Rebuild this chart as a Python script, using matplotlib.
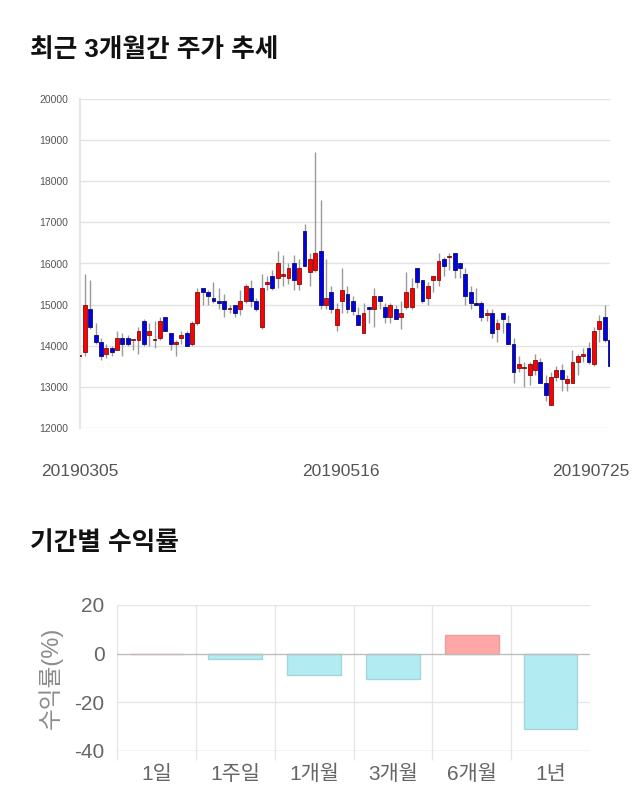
import numpy as np
import matplotlib
matplotlib.use("Agg")
import matplotlib.pyplot as plt
from matplotlib.transforms import ScaledTranslation

plt.rcParams['font.family'] = ['Liberation Sans', 'Noto Sans CJK KR', 'DejaVu Sans']

## daily candles, 2019-03-05 .. 2019-07-25
opens = [13750, 13850, 14900, 14250, 14100, 13800, 13950, 13900, 14200, 14200,
         14150, 14150, 14600, 14250, 14150, 14200, 14700, 14300, 14050, 14200,
         14300, 14050, 14550, 15400, 15300, 15150, 15100, 15100, 14900, 15000,
         14900, 15100, 15400, 15100, 14450, 15500, 15700, 15650, 15700, 15650,
         16000, 15500, 16800, 15800, 15850, 16300, 15000, 15300, 14500, 15100,
         15250, 15100, 14750, 14300, 14950, 14900, 15200, 14950, 14700, 14900,
         14700, 14950, 14950, 15900, 15600, 15150, 15600, 15600, 16100, 16150,
         16250, 16000, 15750, 15300, 15050, 15050, 14750, 14800, 14400, 14800,
         14550, 14050, 13450, 13450, 13300, 13400, 13600, 13100, 12550, 13250,
         13400, 13100, 13100, 13600, 13750, 13950, 13550, 14400, 14700, 14150]
highs = [13850, 15750, 15600, 14550, 14200, 14050, 14000, 14350, 14300, 14250,
         14150, 14450, 14650, 14550, 14600, 14700, 14700, 14300, 14150, 14350,
         14350, 14600, 15400, 15400, 15350, 15550, 15400, 15250, 15000, 15000,
         15350, 15500, 15600, 15150, 15750, 15700, 15850, 16300, 16200, 16000,
         16200, 16100, 16950, 16250, 18700, 17550, 16100, 15450, 15050, 15900,
         15450, 15200, 14950, 15050, 14950, 15400, 15200, 15050, 15050, 15000,
         15100, 15800, 15650, 15900, 15600, 15550, 15700, 16250, 16150, 16250,
         16250, 16000, 15900, 15450, 15400, 15100, 14900, 14900, 14650, 14800,
         14750, 14200, 13750, 13600, 13600, 13800, 13700, 13300, 13350, 13500,
         13550, 13300, 13900, 13800, 13950, 14100, 14450, 14750, 15000, 14450]
lows = [13650, 13750, 14400, 14050, 13650, 13700, 13750, 13900, 13750, 14000,
        13900, 13800, 14000, 14000, 13950, 14150, 14350, 13900, 13750, 14050,
        14000, 14000, 14500, 15000, 15000, 15050, 14900, 14700, 14800, 14700,
        14750, 15050, 14950, 14850, 14400, 15350, 15350, 15400, 15450, 15500,
        15350, 15350, 15950, 15450, 15800, 14900, 14900, 14800, 14350, 14800,
        14800, 14750, 14500, 14300, 14550, 14450, 14900, 14550, 14550, 14650,
        14400, 14900, 14900, 15400, 15050, 15000, 15300, 15450, 15700, 15850,
        15650, 15650, 15000, 14900, 15000, 14600, 14600, 14200, 14100, 14300,
        14050, 13100, 13350, 13000, 13050, 13300, 13100, 12650, 12550, 13150,
        12900, 12900, 13100, 13300, 13600, 13550, 13500, 14100, 14100, 13500]
closes = [13750, 15000, 14450, 14100, 13750, 13950, 13850, 14200, 14050, 14050,
          14150, 14350, 14050, 14350, 14150, 14600, 14350, 14050, 14100, 14250,
          14000, 14550, 15300, 15300, 15200, 15100, 15050, 14900, 14900, 14800,
          15100, 15450, 15100, 14900, 15400, 15550, 15400, 16000, 15750, 15900,
          15600, 15900, 15950, 16100, 16250, 15000, 15150, 14900, 14900, 15350,
          14900, 14850, 14500, 14800, 14900, 15200, 15100, 14700, 15000, 14650,
          14800, 15300, 15400, 15550, 15100, 15450, 15700, 16050, 15950, 16150,
          15850, 15900, 15200, 15050, 15000, 14700, 14800, 14300, 14550, 14650,
          14050, 13350, 13550, 13450, 13550, 13650, 13100, 12800, 13250, 13400,
          13200, 13200, 13600, 13750, 13800, 13600, 14350, 14600, 14150, 13500]
date_ticks = [0, 50, 99]
date_labels = ["20190305", "20190516", "20190725"]
price_ticks = [12000, 13000, 14000, 15000, 16000, 17000, 18000, 19000, 20000]

## period returns
periods = ["1일", "1주일", "1개월", "3개월", "6개월", "1년"]
returns = [0.0, -2.2, -8.9, -10.3, 7.7, -31.0]


def draw_candles(ax):
    o = np.array(opens, float)
    h = np.array(highs, float)
    l = np.array(lows, float)
    c = np.array(closes, float)
    x = np.arange(len(o))
    up = c >= o
    ax.vlines(x, l, h, color="#9a9a9a", linewidth=1, zorder=2)
    bottom = np.minimum(o, c)
    height = np.maximum(np.abs(c - o), 25)
    face = np.where(up, "#ff0000", "#0000ee")
    edge = np.where(up, "#7a1010", "#10105a")
    ax.bar(x, height, bottom=bottom, width=0.72, color=face,
           edgecolor=edge, linewidth=0.6, zorder=3)
    ax.set_xlim(0, len(o) - 1)
    ax.set_ylim(12000, 20000)
    ax.set_yticks(price_ticks)
    ax.set_yticklabels([str(t) for t in price_ticks], fontsize=7.5, color="#555555")
    ax.grid(axis="y", color="#e3e3e3", linewidth=1)
    ax.set_axisbelow(True)
    for s in ["top", "right", "bottom"]:
        ax.spines[s].set_visible(False)
    ax.spines["left"].set_color("#e6e6e6")
    ax.spines["left"].set_linewidth(1.5)
    ax.tick_params(axis="y", length=0, pad=8)
    ax.tick_params(axis="x", length=0, pad=26)
    ax.set_xticks(date_ticks)
    ax.set_xticklabels(date_labels, fontsize=12.5, color="#555555")
    # nudge the middle and last date the way the original sits
    dpi_tr = ax.figure.dpi_scale_trans
    labs = ax.get_xticklabels()
    labs[1].set_transform(labs[1].get_transform() + ScaledTranslation(-0.07, 0, dpi_tr))
    labs[2].set_transform(labs[2].get_transform() + ScaledTranslation(-0.19, 0, dpi_tr))


def draw_returns(ax):
    x = np.arange(len(periods))
    vals = np.array(returns)
    face = np.where(vals >= 0, "#ffa6a6", "#b2ebf2")
    edge = np.where(vals >= 0, "#e8a0a0", "#a5d5dc")
    ax.bar(x, vals, width=0.68, color=face, edgecolor=edge, linewidth=1, zorder=3)
    ax.set_xlim(-0.5, len(periods) - 0.5)
    ax.set_ylim(-40, 20)
    ax.set_yticks([20, 0, -20, -40])
    ax.set_yticklabels(["20", "0", "-20", "-40"], fontsize=15, color="#666666")
    for v in [20, -20]:
        ax.axhline(v, color="#e6e6e6", linewidth=1, zorder=1)
    ax.axhline(0, color="#bdbdbd", linewidth=1, zorder=4)
    ax.axhline(-40, color="#c8c8c8", linewidth=1, zorder=4)
    # category boundaries, running a bit past the bottom
    bounds = np.arange(len(periods)) - 0.5
    ax.vlines(bounds, -43.5, 20, color="#e6e6e6", linewidth=1, zorder=1, clip_on=False)
    for s in ax.spines.values():
        s.set_visible(False)
    ax.set_xticks(x)
    ax.set_xticklabels(periods, fontsize=15, color="#666666")
    ax.tick_params(axis="x", length=0, pad=10)
    ax.tick_params(axis="y", length=0, pad=9)
    ax.set_ylabel("수익률(%)", fontsize=17, color="#8c8c8c", labelpad=8)


fig = plt.figure(figsize=(6.4, 8.1), dpi=100)
fig.text(30 / 640, 1 - 50 / 810, "최근 3개월간 주가 추세", fontsize=18.5,
         fontweight="bold", va="center", ha="left", color="#111111")
fig.text(30 / 640, 1 - 543 / 810, "기간별 수익률", fontsize=18.5,
         fontweight="bold", va="center", ha="left", color="#111111")

ax1 = fig.add_axes([79.5 / 640, 1 - 428 / 810, 530.5 / 640, 329 / 810])
draw_candles(ax1)

ax2 = fig.add_axes([117 / 640, 1 - 751 / 810, 473 / 640, 146 / 810])
draw_returns(ax2)

fig.savefig("out.png", dpi=100)
